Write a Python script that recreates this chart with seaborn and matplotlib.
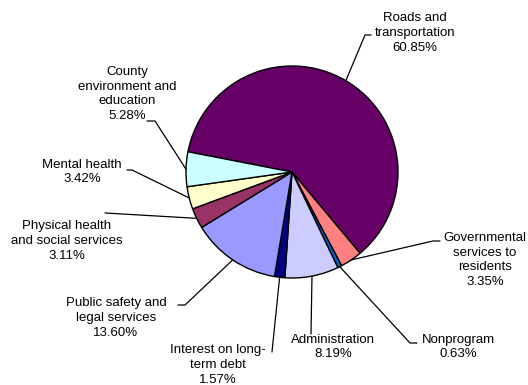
import numpy as np
import matplotlib
matplotlib.use("Agg")
import matplotlib.pyplot as plt
import seaborn as sns

# Data
categories = ["Roads and\ntransportation", "Governmental\nservices to\nresidents",
              "Nonprogram", "Administration", "Interest on long-\nterm debt",
              "Public safety and\nlegal services", "Physical health\nand social services",
              "Mental health", "County\nenvironment and\neducation"]
shares = [60.85, 3.35, 0.63, 8.19, 1.57, 13.60, 3.11, 3.42, 5.28]
colors = ["#660066", "#FF8080", "#0066CC", "#CCCCFF", "#000080",
          "#9999FF", "#993366", "#FFFFCC", "#CCFFFF"]

# Label layout in pixels (text centre, then leader waypoints after the pie edge)
label_pos = [(415, 33), (485, 260), (458, 347), (333, 347), (218, 365),
             (116, 318), (67, 241), (82, 172), (127, 94)]
leader_pts = [[(365, 35), (371, 35)],
              [(433, 241), (440, 241)],
              [(410, 343), (417, 343)],
              [(311, 334)],
              [(272, 352)],
              [(185, 305), (178, 305)],
              [(105, 213)],
              [(132, 170), (127, 170)],
              [(155, 121), (147, 121)]]

W, H = 528, 385
sns.set_style("white")
plt.rcParams['font.family'] = ['Liberation Sans', 'DejaVu Sans']

fig = plt.figure(figsize=(W / 100, H / 100), dpi=100)
ax = fig.add_axes([0, 0, 1, 1])

cx, cy, r = 292, H - 172, 106
wedges, _ = ax.pie(shares, colors=colors, startangle=169, counterclock=False,
                   center=(cx, cy), radius=r,
                   wedgeprops=dict(edgecolor="black", linewidth=1))
ax.set_xlim(0, W)
ax.set_ylim(0, H)
ax.set_aspect("equal")
ax.axis("off")

for w, name, val, (tx, ty), pts in zip(wedges, categories, shares, label_pos, leader_pts):
    mid = np.deg2rad((w.theta1 + w.theta2) / 2)
    xs = [cx + r * np.cos(mid)] + [p[0] for p in pts]
    ys = [cy + r * np.sin(mid)] + [H - p[1] for p in pts]
    ax.plot(xs, ys, color="black", lw=0.9)
    ax.text(tx, H - ty, f"{name}\n{val:.2f}%", ha="center", va="center",
            multialignment="center", fontsize=9.5, linespacing=1.32,
            color="black")

fig.savefig("out.png", dpi=100)
